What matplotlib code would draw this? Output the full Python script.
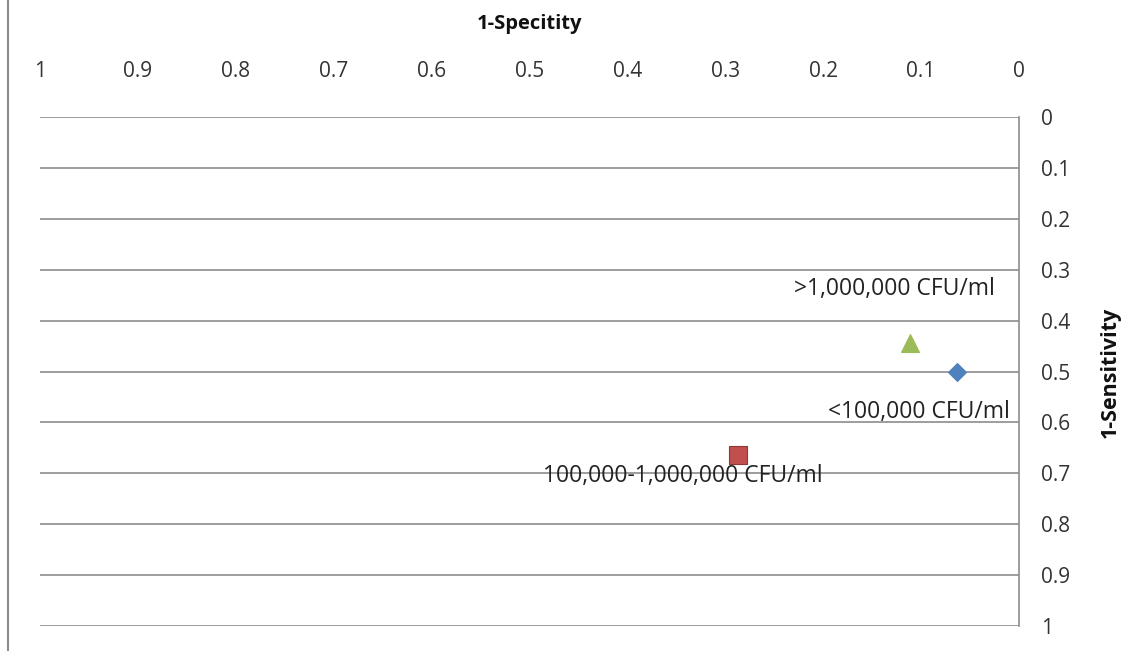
import matplotlib
matplotlib.use("Agg")
import matplotlib.pyplot as plt
from matplotlib.lines import Line2D

plt.rcParams['font.family'] = ['Open Sans', 'DejaVu Sans']

# 1-Specificity (x) and 1-Sensitivity (y) for each bacterial count group
groups = ["<100,000 CFU/ml", "100,000-1,000,000 CFU/ml", ">1,000,000 CFU/ml"]
one_minus_spec = [0.063, 0.287, 0.111]
one_minus_sens = [0.50, 0.664, 0.444]
markers = ["D", "s", "^"]
colors = ["#4f81bd", "#c0504d", "#9bbb59"]
edge_colors = ["#4f81bd", "#8c3836", "#9bbb59"]
marker_sizes = [9, 13, 13]

# label anchor positions (data coordinates)
label_x = [0.102, 0.343, 0.127]
label_y = [0.58, 0.705, 0.338]

ticks = [0, 0.1, 0.2, 0.3, 0.4, 0.5, 0.6, 0.7, 0.8, 0.9, 1]
tick_labels = ["0", "0.1", "0.2", "0.3", "0.4", "0.5", "0.6", "0.7", "0.8", "0.9", "1"]

fig = plt.figure(figsize=(11.44, 6.51), dpi=100)
ax = fig.add_axes([40 / 1144, 1 - 626 / 651, (1019 - 40) / 1144, (626 - 117) / 651])

for xv, yv, m, c, ec, ms in zip(one_minus_spec, one_minus_sens, markers, colors, edge_colors, marker_sizes):
    ax.plot(xv, yv, marker=m, color=c, markeredgecolor=ec, markersize=ms,
            markeredgewidth=0.8, linestyle="none", zorder=5)

for g, lx, ly in zip(groups, label_x, label_y):
    ax.text(lx, ly, g, ha="center", va="center", fontsize=16.5, color="#222222", zorder=6)

ax.set_xlim(1, 0)
ax.set_ylim(1, 0)
ax.set_xticks(ticks)
ax.set_xticklabels(tick_labels)
ax.set_yticks(ticks)
ax.set_yticklabels(tick_labels)
ax.xaxis.tick_top()
ax.yaxis.tick_right()
ax.tick_params(axis="both", length=0, labelsize=15, colors="#333333")
ax.tick_params(axis="x", pad=25)
ax.tick_params(axis="y", pad=16)

ax.grid(axis="y", color="#8c8c8c", linewidth=1.2)
ax.set_axisbelow(True)
for side in ["top", "left", "bottom"]:
    ax.spines[side].set_visible(False)
ax.spines["right"].set_color("#8c8c8c")
ax.spines["right"].set_linewidth(1.2)

fig.text(530 / 1144, 1 - 24 / 651, "1-Specitity", ha="center", va="center",
         fontsize=14.5, fontweight="bold", color="#111111")
fig.text(1110 / 1144, 1 - 372 / 651, "1-Sensitivity", ha="center", va="center",
         rotation=90, fontsize=15.5, fontweight="bold", color="#111111")

# chart area border on the left side
fig.add_artist(Line2D([8 / 1144, 8 / 1144], [0, 1], transform=fig.transFigure,
                      color="#8c8c8c", linewidth=1.5))

fig.savefig("out.png", dpi=100)
